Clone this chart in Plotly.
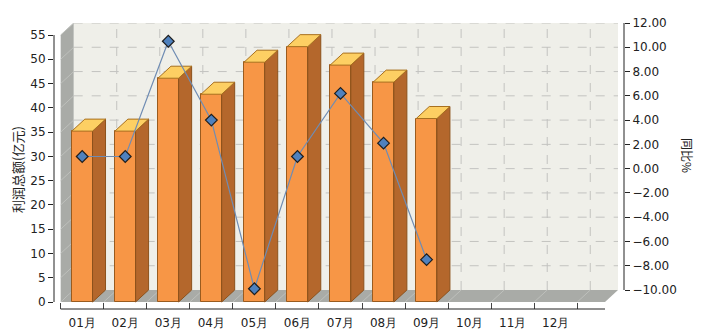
import plotly.graph_objects as go

# ---------------- data ----------------
months = ["01月", "02月", "03月", "04月", "05月", "06月",
          "07月", "08月", "09月", "10月", "11月", "12月"]
profit = [35.2, 35.2, 46.1, 42.8, 49.4, 52.6, 48.8, 45.3, 37.8]   # 利润总额(亿元)
yoy = [1.0, 1.0, 10.5, 4.0, -9.9, 1.0, 6.2, 2.1, -7.5]            # 同比%
left_ticks = list(range(0, 56, 5))
right_ticks = list(range(-10, 13, 2))

# ---------------- geometry helpers ----------------
W, H = 702, 330
ML, MR, MT, MB = 54, 78, 23, 21
CAT_PX = 43.05          # pixel width of one category
X0_PX = 82.2            # pixel centre of first category
Y_PX = 4.8545           # pixels per left-axis unit
Y0_PX = 302             # pixel of left-axis zero
Y2_PX = 12.136          # pixels per right-axis unit
DEPTH_X = 13 / CAT_PX   # 3-D depth offset (x units)
DEPTH_Y = 12 / Y_PX     # 3-D depth offset (left y units)
BAR_W = 0.48

xr = [(ML - X0_PX) / CAT_PX, (W - MR - X0_PX) / CAT_PX]
yr = [(Y0_PX - (H - MB)) / Y_PX, (Y0_PX - MT) / Y_PX]
y2r = [-10 - ((H - MB) - (Y0_PX - 12)) / Y2_PX, -10 + ((Y0_PX - 12) - MT) / Y2_PX]
x_left = -0.5
x_right = 12.144
ymax = left_ticks[-1]

xs = list(range(len(profit)))

fig = go.Figure()

# ---------------- walls & grid (shapes below traces) ----------------
shapes = []
wall_gray = "#A9ABA7"
# back wall
shapes.append(dict(type="rect", xref="x", yref="y", layer="below",
                   x0=x_left + DEPTH_X, x1=x_right + DEPTH_X, y0=DEPTH_Y, y1=ymax + DEPTH_Y,
                   fillcolor="#EFEFE9", line=dict(width=0)))
# side wall
shapes.append(dict(type="path", xref="x", yref="y", layer="below",
                   path=f"M {x_left},0 L {x_left},{ymax} L {x_left+DEPTH_X},{ymax+DEPTH_Y} "
                        f"L {x_left+DEPTH_X},{DEPTH_Y} Z",
                   fillcolor=wall_gray, line=dict(width=0)))
# floor
shapes.append(dict(type="path", xref="x", yref="y", layer="below",
                   path=f"M {x_left},0 L {x_right},0 L {x_right+DEPTH_X},{DEPTH_Y} "
                        f"L {x_left+DEPTH_X},{DEPTH_Y} Z",
                   fillcolor=wall_gray, line=dict(width=0)))
# horizontal dashed grid on back wall
for v in left_ticks[1:]:
    shapes.append(dict(type="line", xref="x", yref="y", layer="below",
                       x0=x_left + DEPTH_X, x1=x_right + DEPTH_X, y0=v + DEPTH_Y, y1=v + DEPTH_Y,
                       line=dict(color="#C3C3C0", width=1, dash="dash")))
    # faint line on side wall
    shapes.append(dict(type="line", xref="x", yref="y", layer="below",
                       x0=x_left, x1=x_left + DEPTH_X, y0=v, y1=v + DEPTH_Y,
                       line=dict(color="#BEC0BC", width=1)))
# vertical dashed grid on back wall
for k in range(1, 13):
    b = x_left + k
    shapes.append(dict(type="line", xref="x", yref="y", layer="below",
                       x0=b + DEPTH_X, x1=b + DEPTH_X, y0=DEPTH_Y, y1=ymax + DEPTH_Y,
                       line=dict(color="#C3C3C0", width=1, dash="dash")))
    shapes.append(dict(type="line", xref="x", yref="y", layer="below",
                       x0=b, x1=b + DEPTH_X, y0=0, y1=DEPTH_Y,
                       line=dict(color="#BEC0BC", width=1)))
# axis lines
shapes.append(dict(type="line", xref="paper", yref="y", x0=0, x1=0, y0=0, y1=ymax,
                   line=dict(color="#222", width=1)))
shapes.append(dict(type="line", xref="paper", yref="y2", x0=1, x1=1,
                   y0=right_ticks[0], y1=right_ticks[-1], line=dict(color="#222", width=1)))
shapes.append(dict(type="line", xref="x", yref="paper", x0=x_left, x1=x_right, y0=0, y1=0,
                   line=dict(color="#222", width=1)))

# ---------------- 3-D bars ----------------
fig.add_trace(go.Bar(x=xs, y=profit, width=BAR_W,
                     marker=dict(color="#F79646", line=dict(color="#9A5B1E", width=1)),
                     hoverinfo="skip", showlegend=False))

side_x, side_y, top_x, top_y = [], [], [], []
for x, v in zip(xs, profit):
    r = x + BAR_W / 2
    l = x - BAR_W / 2
    side_x += [r, r, r + DEPTH_X, r + DEPTH_X, r, None]
    side_y += [0, v, v + DEPTH_Y, DEPTH_Y, 0, None]
    top_x += [l, r, r + DEPTH_X, l + DEPTH_X, l, None]
    top_y += [v, v, v + DEPTH_Y, v + DEPTH_Y, v, None]

fig.add_trace(go.Scatter(x=side_x, y=side_y, mode="lines", fill="toself",
                         fillcolor="#B4672C", line=dict(color="#8C521C", width=1),
                         hoverinfo="skip", showlegend=False))
fig.add_trace(go.Scatter(x=top_x, y=top_y, mode="lines", fill="toself",
                         fillcolor="#FDCF63", line=dict(color="#A8701F", width=1),
                         hoverinfo="skip", showlegend=False))

# ---------------- line (right axis) ----------------
fig.add_trace(go.Scatter(x=xs, y=yoy, yaxis="y2", mode="lines+markers",
                         line=dict(color="#6F8CB3", width=1.2),
                         marker=dict(symbol="diamond", size=9, color="#4F81BD",
                                     line=dict(color="#1E1E1E", width=1.2)),
                         cliponaxis=False, showlegend=False))

font_family = "DejaVu Sans, Verdana, sans-serif"
fig.update_layout(
    width=W, height=H,
    margin=dict(l=ML, r=MR, t=MT, b=MB, pad=0, autoexpand=False),
    paper_bgcolor="white", plot_bgcolor="white",
    showlegend=False, bargap=0,
    font=dict(family=font_family, size=12, color="#222"),
    shapes=shapes,
    xaxis=dict(range=xr, tickmode="array", tickvals=list(range(len(months))), ticktext=months,
               ticks="", showgrid=False, zeroline=False, showline=False, automargin=False,
               ticklabelstandoff=5,
               minor=dict(tickmode="array", tickvals=[x_left + k for k in range(13)],
                          ticks="inside", ticklen=6, tickcolor="#444", showgrid=False),
               tickfont=dict(size=12, family=font_family)),
    yaxis=dict(range=yr, tickmode="array", tickvals=left_ticks, ticks="outside", ticklen=5,
               tickcolor="#222", showgrid=False, zeroline=False, showline=False,
               automargin=False, tickfont=dict(size=12, family=font_family)),
    yaxis2=dict(range=y2r, overlaying="y", side="right", tickmode="array",
                tickvals=right_ticks, tickformat=".2f", ticks="outside", ticklen=5,
                tickcolor="#222", showgrid=False, zeroline=False, showline=False,
                automargin=False, tickfont=dict(size=12, family=font_family)),
    annotations=[
        dict(text="利润总额(亿元)", xref="paper", yref="paper",
             x=(17 - ML) / (W - ML - MR), y=(H - MB - 170) / (H - MT - MB),
             xanchor="center", yanchor="middle",
             textangle=-90, showarrow=False,
             font=dict(size=13, family="Noto Sans CJK SC, sans-serif", color="#222")),
        dict(text="同比%", xref="paper", yref="paper",
             x=(688 - ML) / (W - ML - MR), y=(H - MB - 155) / (H - MT - MB),
             xanchor="center", yanchor="middle",
             textangle=90, showarrow=False,
             font=dict(size=12, family="Noto Sans CJK SC, sans-serif", color="#222")),
    ],
)

fig.write_html("out.html")
